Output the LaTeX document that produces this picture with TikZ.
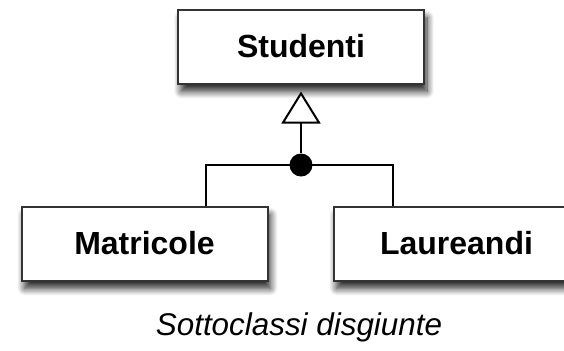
\documentclass[tikz,border=0pt]{standalone}
\usepackage{fontspec}
\setmainfont{Liberation Sans}
\usetikzlibrary{arrows.meta,shadows.blur}

\begin{document}
\begin{tikzpicture}[x=0.5pt, y=-0.5pt,
  classe/.style={draw=black!80, line width=1pt, fill=white, minimum width=123pt, minimum height=37pt, inner sep=0pt, font=\fontsize{16}{19}\selectfont\bfseries, blur shadow={shadow xshift=1.5pt, shadow yshift=-4pt, shadow blur steps=10, shadow blur radius=3.5pt, shadow opacity=85}},
  linea/.style={line width=1pt, black}]
\useasboundingbox (0,0) rectangle (564,350);
\node[classe] (studenti) at (301,46.5) {Studenti};
\node[classe] (matricole) at (144.5,243.5) {Matricole};
\node[classe] (laureandi) at (456.5,243.5) {Laureandi};
\coordinate (sx) at (206,165);
\coordinate (dx) at (393,165);
\draw[linea] (sx |- matricole.north) -- (sx) -- (dx) -- (dx |- laureandi.north);
\node[circle, fill=black, inner sep=0pt, minimum size=11.5pt] (disj) at (301,165) {};
\draw[linea, -{Triangle[open, fill=white, length=16pt, width=19.5pt, line width=1pt]}, shorten >=3.5pt] (disj) -- (studenti);
\node[font=\fontsize{15.7}{18}\selectfont\itshape] (nota) at (299,327) {Sottoclassi disgiunte};
\end{tikzpicture}
\end{document}
